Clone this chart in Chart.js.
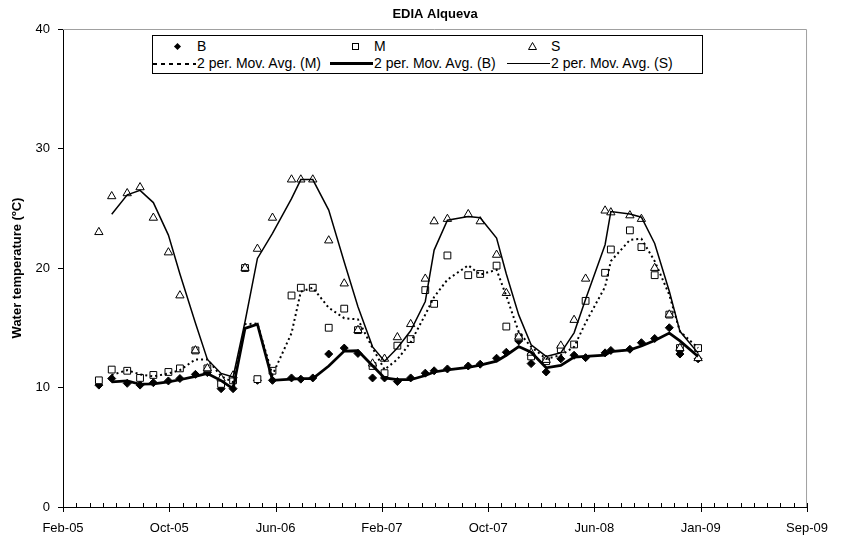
<!DOCTYPE html>
<html>
<head>
<meta charset="utf-8">
<script src="https://cdn.jsdelivr.net/npm/chart.js@4/dist/chart.umd.min.js"></script>
<style>
    body { margin: 0; background: #fff; }
    #wrap { position: relative; width: 842px; height: 543px; }
    #legend {
        position: absolute; left: 152px; top: 35px; width: 549px; height: 37px;
        border: 1px solid #000; background: #fff;
        font: 14px "Liberation Sans", Arial, sans-serif; color: #000;
    }
    .item { position: absolute; height: 17px; line-height: 17px; white-space: nowrap; }
    .sample { position: absolute; left: 0; top: 0; width: 44px; height: 17px; }
    .label { position: absolute; left: 44px; top: 0; }
    .diamond { position: absolute; left: 22px; top: 6px; width: 5px; height: 5px; background: #000; transform: rotate(45deg); }
    .square { position: absolute; left: 22px; top: 5px; width: 5px; height: 5px; border: 1px solid #000; }
    .tri { position: absolute; left: 21px; top: 4px; }
    .dash { position: absolute; left: 0; top: 8px; width: 43px; height: 2px;
        background: repeating-linear-gradient(90deg, #000 0 4px, transparent 4px 8px); }
    .thick { position: absolute; left: 0; top: 7px; width: 43px; height: 3px; background: #000; }
    .thin { position: absolute; left: 0; top: 8px; width: 43px; height: 1px; background: #000; }
</style>
</head>
<body>
<div id="wrap">
    <canvas id="chart" width="842" height="543"></canvas>
    <div id="legend">
        <div class="item" style="left:0;top:2px"><span class="sample"><span class="diamond"></span></span><span class="label">B</span></div>
        <div class="item" style="left:177px;top:2px"><span class="sample"><span class="square"></span></span><span class="label">M</span></div>
        <div class="item" style="left:354px;top:2px"><span class="sample"><svg class="tri" width="9" height="8"><polygon points="4.5,0.5 8.5,7.5 0.5,7.5" fill="#fff" stroke="#000" stroke-width="1"/></svg></span><span class="label">S</span></div>
        <div class="item" style="left:0;top:19px"><span class="sample"><span class="dash"></span></span><span class="label">2 per. Mov. Avg. (M)</span></div>
        <div class="item" style="left:177px;top:19px"><span class="sample"><span class="thick"></span></span><span class="label">2 per. Mov. Avg. (B)</span></div>
        <div class="item" style="left:354px;top:19px"><span class="sample"><span class="thin"></span></span><span class="label">2 per. Mov. Avg. (S)</span></div>
    </div>
</div>
<script>
// sampling dates
const sampleDates = [
    "2005-05-07", "2005-06-05", "2005-07-10", "2005-08-08", "2005-09-07", "2005-10-11", "2005-11-06", "2005-12-11",
    "2006-01-07", "2006-02-07", "2006-03-06", "2006-04-02", "2006-04-30", "2006-06-03", "2006-07-16", "2006-08-06",
    "2006-09-02", "2006-10-08", "2006-11-12", "2006-12-13", "2007-01-15", "2007-02-11", "2007-03-12", "2007-04-11",
    "2007-05-14", "2007-06-03", "2007-07-03", "2007-08-19", "2007-09-15", "2007-10-22", "2007-11-13", "2007-12-11",
    "2008-01-08", "2008-02-11", "2008-03-15", "2008-04-14", "2008-05-10", "2008-06-23", "2008-07-06", "2008-08-18",
    "2008-09-13", "2008-10-13", "2008-11-15", "2008-12-09", "2009-01-19"
];

// water temperature (ºC): bottom, middle, surface
const tempB = [
    10.2, 10.75, 10.35, 10.2, 10.4, 10.55, 10.75, 11.1, 11.25, 9.9,
    9.9, 20.0, 10.6, 10.6, 10.8, 10.7, 10.8, 12.8, 13.3, 12.85,
    10.8, 10.8, 10.5, 10.8, 11.2, 11.4, 11.55, 11.8, 11.95, 12.45,
    12.95, 13.9, 12.0, 11.3, 12.4, 12.7, 12.5, 12.9, 13.1, 13.2,
    13.75, 14.1, 15.0, 12.8, 12.4
];
const tempM = [
    10.6, 11.5, 11.4, 10.8, 11.05, 11.3, 11.6, 13.1, 11.6, 10.3,
    10.6, 20.0, 10.7, 11.4, 17.7, 18.35, 18.35, 15.0, 16.6, 14.8,
    11.8, 11.2, 13.5, 14.05, 18.15, 17.0, 21.05, 19.4, 19.5, 20.2,
    15.1, 14.2, 12.6, 12.2, 13.2, 13.6, 17.25, 19.6, 21.55, 23.15,
    21.75, 19.4, 16.1, 13.3, 13.3
];
const tempS = [
    23.0, 26.0, 26.25, 26.75, 24.2, 21.3, 17.7, 13.1, 11.6, 10.75,
    11.0, 20.0, 21.6, 24.2, 27.4, 27.4, 27.4, 22.3, 18.7, 14.8,
    12.0, 12.4, 14.2, 15.3, 19.1, 23.9, 24.1, 24.5, 23.9, 21.1,
    17.9, 14.25, 12.9, 12.3, 13.5, 15.65, 19.1, 24.8, 24.65, 24.4,
    24.1, 20.0, 16.1, 13.3, 12.45
];

// x axis: days from axis start, major unit 240 days, minor 30 days
const axisStart = "2005-02-15";
const xTickLabels = ["Feb-05", "Oct-05", "Jun-06", "Feb-07", "Oct-07", "Jun-08", "Jan-09", "Sep-09"];
const yTicks = [0, 10, 20, 30, 40];

const dayNum = d => (Date.parse(d) - Date.parse(axisStart)) / 864e5;
const points = vals => vals.map((v, i) => ({ x: dayNum(sampleDates[i]), y: v }));
// 2 period moving average, like the Excel trendline
const movAvg = vals => vals.slice(1).map((v, i) => ({ x: dayNum(sampleDates[i + 1]), y: (vals[i] + v) / 2 }));

// gray plot frame on top/right + x tick marks (minor inside, major crossing)
const frame = {
    id: "frame",
    afterDraw(chart) {
        const { ctx, chartArea: a, scales: { x } } = chart;
        ctx.save();
        ctx.strokeStyle = "#a0a0a0";
        ctx.lineWidth = 1;
        ctx.beginPath();
        ctx.moveTo(a.left, a.top + 0.5);
        ctx.lineTo(a.right - 0.5, a.top + 0.5);
        ctx.lineTo(a.right - 0.5, a.bottom);
        ctx.stroke();
        ctx.strokeStyle = "#000";
        ctx.beginPath();
        x.ticks.forEach(t => {
            const px = Math.round(x.getPixelForValue(t.value)) + 0.5;
            ctx.moveTo(px, a.bottom - 4);
            ctx.lineTo(px, a.bottom + (t.value % 240 === 0 ? 5 : 0));
        });
        ctx.stroke();
        ctx.restore();
    }
};

Chart.defaults.font.family = '"Liberation Sans", Arial, sans-serif';
Chart.defaults.font.size = 13;
Chart.defaults.color = "#000";

const maxDay = (xTickLabels.length - 1) * 240;

new Chart(document.getElementById("chart"), {
    type: "scatter",
    data: {
        datasets: [
            { label: "2 per. Mov. Avg. (M)", data: movAvg(tempM), showLine: true, pointRadius: 0, borderColor: "#000", borderWidth: 2, borderDash: [2, 3], order: 0 },
            { label: "2 per. Mov. Avg. (B)", data: movAvg(tempB), showLine: true, pointRadius: 0, borderColor: "#000", borderWidth: 2.75, order: 0 },
            { label: "2 per. Mov. Avg. (S)", data: movAvg(tempS), showLine: true, pointRadius: 0, borderColor: "#000", borderWidth: 1.5, order: 0 },
            { label: "S", data: points(tempS), pointStyle: "triangle", pointRadius: 4.8, backgroundColor: "#fff", borderColor: "#000", borderWidth: 1, order: 1 },
            { label: "M", data: points(tempM), pointStyle: "rect", pointRadius: 4.8, backgroundColor: "#fff", borderColor: "#000", borderWidth: 1, order: 2 },
            { label: "B", data: points(tempB), pointStyle: "rectRot", pointRadius: 4, backgroundColor: "#000", borderColor: "#000", borderWidth: 1, order: 3 }
        ]
    },
    options: {
        responsive: false,
        animation: false,
        events: [],
        layout: { padding: { left: 0, right: 29, top: 0, bottom: 0 } },
        plugins: {
            legend: { display: false },
            tooltip: { enabled: false },
            title: {
                display: true, text: "EDIA Alqueva", fullSize: false,
                font: { size: 13, weight: "bold" }, padding: { top: 7, bottom: 6.4 }
            }
        },
        scales: {
            x: {
                type: "linear", min: 0, max: maxDay,
                afterFit(s) { s.height = 36; },
                grid: { drawOnChartArea: false, drawTicks: false },
                border: { color: "#000", width: 1 },
                ticks: {
                    stepSize: 30, autoSkip: false, maxRotation: 0, padding: 14,
                    callback: v => (v % 240 === 0 ? xTickLabels[v / 240] : "")
                }
            },
            y: {
                min: yTicks[0], max: yTicks[yTicks.length - 1],
                afterFit(s) { s.width = 63; },
                afterBuildTicks(s) { s.ticks = yTicks.map(v => ({ value: v })); },
                grid: { drawOnChartArea: false, tickLength: 5, tickColor: "#000" },
                border: { color: "#000", width: 1 },
                ticks: { padding: 8 },
                title: {
                    display: true, text: "Water temperature (ºC)",
                    font: { size: 13, weight: "bold" }, padding: { top: 10, bottom: 0 }
                }
            }
        }
    },
    plugins: [frame]
});
</script>
</body>
</html>
